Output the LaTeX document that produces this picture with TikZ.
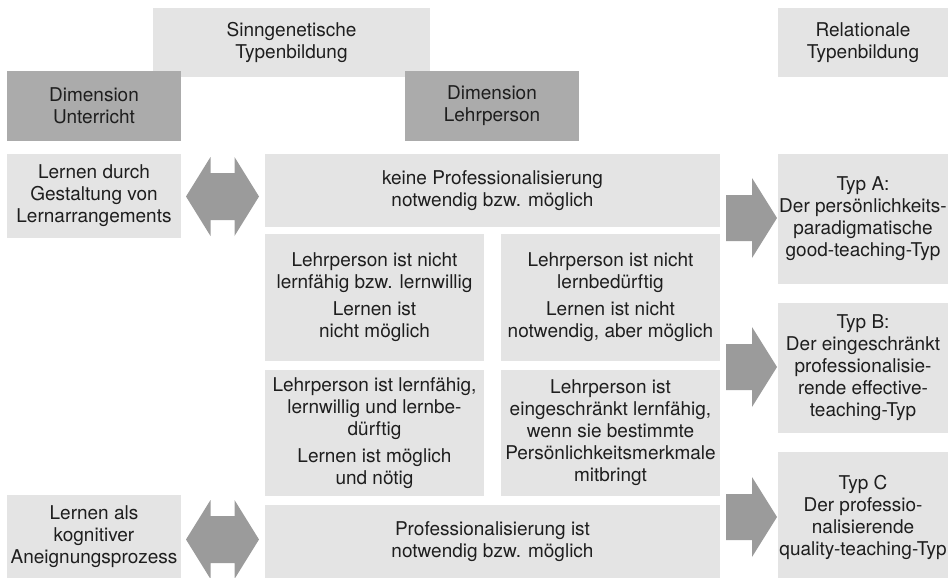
\documentclass[tikz,border=0pt]{standalone}
\usepackage{fontspec}
\setmainfont{TeX Gyre Heros}
\definecolor{boxlight}{HTML}{E4E4E4}
\definecolor{boxdark}{HTML}{ABABAB}
\definecolor{arrowgray}{HTML}{9B9B9B}
\definecolor{txt}{HTML}{1E1E1E}
\tikzset{
  box/.style={fill=boxlight, inner sep=0pt, align=center, text=txt, font=\fontsize{19}{22}\selectfont},
  darkbox/.style={box, fill=boxdark},
  dblarr/.pic={\fill[arrowgray] (-36.5,0) -- (-12,-39.5) -- (-12,-23.5) -- (12,-23.5) -- (12,-39.5) -- (36.5,0) -- (12,39.5) -- (12,23.5) -- (-12,23.5) -- (-12,39.5) -- cycle;},
  rarr/.pic={\fill[arrowgray] (0,-23) -- (26,-23) -- (26,-40) -- (51,0) -- (26,40) -- (26,23) -- (0,23) -- cycle;}
}
\begin{document}
\begin{tikzpicture}[x=1pt,y=-1pt]
\useasboundingbox (0,0) rectangle (948,578);
% header
\node[box, minimum width=277pt, minimum height=69pt] (sinn) at (291.5,42.5) {Sinngenetische\\Typenbildung};
\node[box, minimum width=170pt, minimum height=69pt] (rel) at (863,42.5) {Relationale\\Typenbildung};
\node[darkbox, minimum width=174pt, minimum height=70pt] (dimU) at (94,106) {Dimension\\Unterricht};
\node[darkbox, minimum width=174pt, minimum height=70pt] (dimL) at (492,106) {Dimension\\Lehrperson};
% left column
\node[box, minimum width=174pt, minimum height=84pt] (lernD) at (94,196) {Lernen durch\\Gestaltung von\\Lernarrangements};
\node[box, minimum width=174pt, minimum height=83pt] (lernA) at (94,536.5) {Lernen als\\kognitiver\\Aneignungsprozess};
% middle
\node[box, minimum width=455pt, minimum height=73pt] (keine) at (492.5,190.5) {keine Professionalisierung\\notwendig bzw. möglich};
\node[box, minimum width=219pt, minimum height=127pt] (nlf) at (374.5,297.5) {Lehrperson ist nicht\\lernfähig bzw. lernwillig\\[5pt]Lernen ist\\nicht möglich};
\node[box, minimum width=219pt, minimum height=127pt] (nlb) at (610.5,297.5) {Lehrperson ist nicht\\lernbedürftig\\[5pt]Lernen ist nicht\\notwendig, aber möglich};
\node[box, minimum width=219pt, minimum height=126pt] (lf) at (374.5,433) {Lehrperson ist lernfähig,\\lernwillig und lernbe-\\dürftig\\[5pt]Lernen ist möglich\\und nötig};
\node[box, minimum width=219pt, minimum height=126pt] (eing) at (610.5,433) {Lehrperson ist\\eingeschränkt lernfähig,\\wenn sie bestimmte\\Persönlichkeitsmerkmale\\mitbringt};
\node[box, minimum width=455pt, minimum height=73pt] (prof) at (492.5,541.5) {Professionalisierung ist\\notwendig bzw. möglich};
% right column
\node[box, minimum width=170pt, minimum height=130pt] (typA) at (863,219) {Typ A:\\Der persönlichkeits-\\paradigmatische\\good-teaching-Typ};
\node[box, minimum width=170pt, minimum height=130pt] (typB) at (863,368) {Typ B:\\Der eingeschränkt\\professionalisie-\\rende effective-\\teaching-Typ};
\node[box, minimum width=170pt, minimum height=130pt] (typC) at (863,517) {Typ C\\Der professio-\\nalisierende\\quality-teaching-Typ};
% block arrows
\pic at (222.5,196.5) {dblarr};
\pic at (222.5,539.5) {dblarr};
\pic at (726,218) {rarr};
\pic at (726,367) {rarr};
\pic at (726,517) {rarr};
\end{tikzpicture}
\end{document}
